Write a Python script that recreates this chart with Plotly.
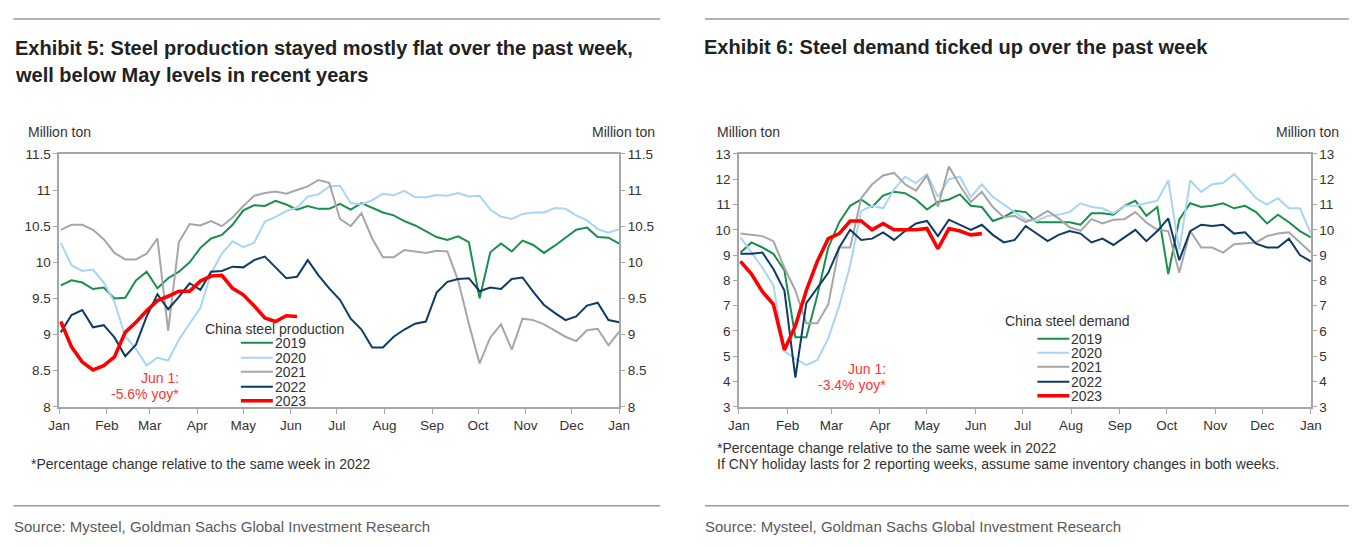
import plotly.graph_objects as go
import pandas as pd

W, H = 1360, 547          # reference picture size
M = 8                     # default page body margin
FW, FH = W - 2 * M, H - 2 * M   # figure size so the page fits the window
# measured photograph transform (page px -> picture px), inverted below
SX, CX = 0.9855, 9.8
SY, CY = 0.9723, 6.2

# ---------------- data ----------------
years = ["2019", "2020", "2021", "2022", "2023"]
month_labels = ["Jan", "Feb", "Mar", "Apr", "May", "Jun", "Jul", "Aug", "Sep", "Oct", "Nov", "Dec", "Jan"]
month_starts = pd.date_range("2021-01-01", "2022-01-01", freq="MS")
week_dates = pd.date_range("2021-01-02", periods=53, freq="7D")

# Exhibit 5: steel production (million ton, weekly)
prod_2019 = [9.68, 9.75, 9.72, 9.63, 9.65, 9.50, 9.51, 9.75, 9.87, 9.64, 9.78, 9.87, 10.00, 10.20, 10.33, 10.38,
             10.52, 10.72, 10.79, 10.78, 10.85, 10.80, 10.73, 10.78, 10.74, 10.74, 10.81, 10.73, 10.82, 10.76,
             10.69, 10.65, 10.57, 10.51, 10.43, 10.35, 10.31, 10.36, 10.28, 9.50, 10.14, 10.26, 10.15, 10.30,
             10.24, 10.13, 10.23, 10.34, 10.45, 10.48, 10.35, 10.34, 10.26]
prod_2020 = [10.27, 9.96, 9.88, 9.90, 9.72, 9.45, 8.98, 8.80, 8.57, 8.68, 8.64, 8.93, 9.15, 9.37, 9.85, 10.12,
             10.29, 10.21, 10.27, 10.56, 10.63, 10.71, 10.76, 10.91, 10.94, 11.05, 11.06, 10.82, 10.80, 10.86,
             10.95, 10.93, 10.99, 10.90, 10.90, 10.93, 10.92, 10.96, 10.91, 10.92, 10.73, 10.63, 10.60, 10.67,
             10.69, 10.69, 10.75, 10.74, 10.65, 10.58, 10.46, 10.41, 10.46]
prod_2021 = [10.45, 10.52, 10.52, 10.45, 10.32, 10.13, 10.04, 10.04, 10.12, 10.33, 9.05, 10.28, 10.53, 10.51,
             10.57, 10.50, 10.62, 10.78, 10.92, 10.96, 10.98, 10.95, 11.00, 11.05, 11.14, 11.10, 10.60, 10.50,
             10.68, 10.33, 10.07, 10.07, 10.17, 10.15, 10.13, 10.16, 10.15, 9.75, 9.15, 8.60, 8.96, 9.14, 8.79,
             9.22, 9.20, 9.14, 9.05, 8.97, 8.91, 9.06, 9.08, 8.85, 9.04]
prod_2022 = [9.03, 9.27, 9.34, 9.10, 9.13, 8.96, 8.70, 8.86, 9.25, 9.56, 9.35, 9.52, 9.71, 9.62, 9.87, 9.88,
             9.94, 9.93, 10.03, 10.08, 9.93, 9.78, 9.80, 10.03, 9.82, 9.64, 9.48, 9.22, 9.07, 8.82, 8.82, 8.97,
             9.07, 9.15, 9.18, 9.58, 9.73, 9.77, 9.78, 9.60, 9.65, 9.63, 9.77, 9.79, 9.59, 9.41, 9.30, 9.20,
             9.25, 9.40, 9.44, 9.20, 9.17]
prod_2023 = [9.18, 8.83, 8.62, 8.51, 8.57, 8.69, 9.03, 9.17, 9.33, 9.47, 9.53, 9.60, 9.60, 9.74, 9.81, 9.82,
             9.64, 9.55, 9.40, 9.23, 9.18, 9.26, 9.25]

# Exhibit 6: steel demand (million ton, weekly)
dem_2019 = [9.10, 9.50, 9.30, 9.05, 8.40, 5.75, 5.75, 7.40, 9.30, 10.30, 10.95, 11.20, 10.90, 11.35, 11.50,
            11.45, 11.20, 10.80, 11.10, 11.20, 11.40, 10.95, 10.90, 10.35, 10.50, 10.75, 10.70, 10.30, 10.30,
            10.30, 10.30, 10.20, 10.65, 10.65, 10.60, 10.95, 11.15, 10.55, 10.90, 8.25, 10.40, 11.05, 10.90,
            10.95, 11.05, 10.85, 10.95, 10.70, 10.25, 10.60, 10.30, 9.95, 9.70]
dem_2020 = [9.70, 9.10, 8.50, 7.80, 5.20, 4.90, 4.65, 4.85, 5.70, 7.00, 8.60, 10.75, 10.95, 10.85, 11.60,
            12.10, 11.85, 12.20, 11.30, 12.00, 12.10, 11.30, 11.80, 11.30, 11.00, 10.70, 10.40, 10.35, 10.55,
            10.60, 10.70, 11.05, 10.90, 10.85, 10.65, 10.95, 10.95, 11.05, 11.15, 11.95, 9.20, 11.95, 11.50,
            11.80, 11.85, 12.20, 11.75, 11.25, 11.00, 11.25, 10.85, 10.85, 9.85]
dem_2021 = [9.85, 9.80, 9.75, 9.55, 8.50, 7.60, 6.30, 6.30, 7.05, 9.30, 9.30, 11.25, 11.80, 12.15, 12.25,
            11.80, 11.55, 12.15, 10.90, 12.50, 11.75, 11.10, 11.50, 10.90, 10.50, 10.55, 10.30, 10.48, 10.75,
            10.45, 10.10, 9.96, 10.42, 10.25, 10.40, 10.42, 10.70, 10.29, 10.00, 9.95, 8.30, 9.95, 9.30, 9.30,
            9.10, 9.43, 9.45, 9.50, 9.75, 9.85, 9.90, 9.50, 9.10]
dem_2022 = [9.05, 9.05, 9.10, 8.45, 7.60, 4.15, 7.10, 7.70, 8.30, 9.30, 10.00, 9.60, 9.65, 9.90, 9.60, 9.95,
            10.25, 10.35, 9.75, 10.40, 10.20, 10.00, 10.20, 9.80, 9.50, 9.60, 10.15, 9.85, 9.55, 9.80, 9.95,
            9.85, 9.50, 9.65, 9.40, 9.70, 10.00, 9.55, 9.95, 10.45, 8.80, 9.95, 10.20, 10.15, 10.20, 9.85, 9.90,
            9.45, 9.30, 9.30, 9.65, 9.00, 8.75]
dem_2023 = [8.75, 8.25, 7.55, 7.05, 5.25, 6.20, 7.60, 8.75, 9.65, 9.85, 10.35, 10.35, 10.00, 10.25, 10.00,
            10.00, 10.00, 10.05, 9.25, 10.05, 9.95, 9.80, 9.85]

prod_series = [prod_2019, prod_2020, prod_2021, prod_2022, prod_2023]
dem_series = [dem_2019, dem_2020, dem_2021, dem_2022, dem_2023]

# ---------------- styles ----------------
colors = ["#17904b", "#a9d4f5", "#a6a6a6", "#0e3a66", "#ff0000"]
widths = [2.0, 2.0, 2.0, 2.0, 3.6]
FONT = "Liberation Sans, Arial, sans-serif"
NARROW = "Liberation Sans Narrow, Arial Narrow, Liberation Sans, sans-serif"
TXT = "#333333"
AXC = "#a6a6a6"
RED = "#ff3333"


def px(x):
    xp = (x - CX) / SX
    return (xp - M) / FW


def py(y):
    yp = (y - CY) / SY
    return 1 - (yp - M) / FH


fig = go.Figure()

for ys, c, w, name in zip(prod_series, colors, widths, years):
    fig.add_trace(go.Scatter(x=week_dates[:len(ys)], y=ys, mode="lines", name=name,
                             line=dict(color=c, width=w), xaxis="x", yaxis="y", showlegend=False))
for ys, c, w, name in zip(dem_series, colors, widths, years):
    fig.add_trace(go.Scatter(x=week_dates[:len(ys)], y=ys, mode="lines", name=name,
                             line=dict(color=c, width=w), xaxis="x2", yaxis="y3", showlegend=False))
# invisible traces to activate the right-hand axes
fig.add_trace(go.Scatter(x=week_dates, y=prod_2019, mode="none", xaxis="x", yaxis="y2",
                         showlegend=False, hoverinfo="skip"))
fig.add_trace(go.Scatter(x=week_dates, y=dem_2019, mode="none", xaxis="x2", yaxis="y4",
                         showlegend=False, hoverinfo="skip"))

ydom = [py(406), py(153)]
xdom1 = [px(58), px(619)]
xdom2 = [px(739), px(1312)]

xcommon = dict(type="date", range=[month_starts[0], month_starts[-1]], tickvals=month_starts,
               ticktext=month_labels, showline=True, linecolor=AXC, linewidth=1.5, mirror=True,
               ticks="outside", ticklen=5, tickcolor=AXC, showgrid=False, zeroline=False,
               tickfont=dict(family=FONT, size=13.5, color=TXT))
ycommon = dict(showline=True, linecolor=AXC, linewidth=1.5, ticks="outside", ticklen=4,
               tickcolor=AXC, showgrid=False, zeroline=False,
               tickfont=dict(family=FONT, size=13.5, color=TXT))

fig.update_layout(
    width=FW, height=FH, margin=dict(l=0, r=0, t=0, b=0),
    paper_bgcolor="white", plot_bgcolor="white", showlegend=False,
    xaxis=dict(domain=xdom1, anchor="y", **xcommon),
    yaxis=dict(domain=ydom, anchor="x", range=[8, 11.5], dtick=0.5, side="left", **ycommon),
    yaxis2=dict(overlaying="y", anchor="x", side="right", range=[8, 11.5], dtick=0.5, **ycommon),
    xaxis2=dict(domain=xdom2, anchor="y3", **xcommon),
    yaxis3=dict(domain=ydom, anchor="x2", range=[3, 13], dtick=1, side="left", **ycommon),
    yaxis4=dict(overlaying="y3", anchor="x2", side="right", range=[3, 13], dtick=1, **ycommon),
)

shapes = []
annotations = []


def text(x, y, s, size=13, color=TXT, family=FONT, xanchor="left", bold=False):
    if bold:
        s = "<b>" + s + "</b>"
    annotations.append(dict(x=px(x), y=py(y), xref="paper", yref="paper", text=s, showarrow=False,
                            xanchor=xanchor, yanchor="middle", borderpad=0,
                            font=dict(family=family, size=size, color=color)))


def hline(x0, x1, y, color="#9a9a9a", width=1.5):
    shapes.append(dict(type="line", xref="paper", yref="paper", x0=px(x0), x1=px(x1), y0=py(y), y1=py(y),
                       line=dict(color=color, width=width)))


# rules
hline(12, 660, 18)
hline(705, 1350, 18)
hline(12, 660, 505)
hline(705, 1350, 505)

# titles
text(13, 47, "Exhibit 5: Steel production stayed mostly flat over the past week,", size=20, color="#222222",
     family=NARROW, bold=True)
text(13, 74, "well below May levels in recent years", size=20, color="#222222", family=NARROW, bold=True)
text(703, 46, "Exhibit 6: Steel demand ticked up over the past week", size=20, color="#222222",
     family=NARROW, bold=True)

# units
text(26, 131, "Million ton", size=14)
text(656, 131, "Million ton", size=14, xanchor="right")
text(716, 131, "Million ton", size=14)
text(1341, 131, "Million ton", size=14, xanchor="right")

# red callouts
text(179, 377, "Jun 1:", size=14, color=RED, xanchor="right")
text(179, 393, "-5.6% yoy*", size=14, color=RED, xanchor="right")
text(887, 368, "Jun 1:", size=14, color=RED, xanchor="right")
text(887, 384, "-3.4% yoy*", size=14, color=RED, xanchor="right")

# legends (manual)
text(203, 328, "China steel production", size=14)
leg1_y = [342, 357, 371, 386, 400]
for name, c, w, y in zip(years, colors, widths, leg1_y):
    hline(240, 272, y, color=c, width=w)
    text(273, y, name, size=14)

text(1005, 320, "China steel demand", size=14)
leg2_y = [338, 352, 366, 381, 395]
for name, c, w, y in zip(years, colors, widths, leg2_y):
    hline(1038, 1070, y, color=c, width=w)
    text(1071, y, name, size=14)

# footnotes
text(29, 463, "*Percentage change relative to the same week in 2022", size=14)
text(716, 447, "*Percentage change relative to the same week in 2022", size=14)
text(716, 463, "If CNY holiday lasts for 2 reporting weeks, assume same inventory changes in both weeks.",
     size=14)

# sources
text(12, 526, "Source: Mysteel, Goldman Sachs Global Investment Research", size=15, color="#5a5a5a",
     family=NARROW)
text(704, 526, "Source: Mysteel, Goldman Sachs Global Investment Research", size=15, color="#5a5a5a",
     family=NARROW)

fig.update_layout(shapes=shapes, annotations=annotations)
fig.write_html("out.html")
